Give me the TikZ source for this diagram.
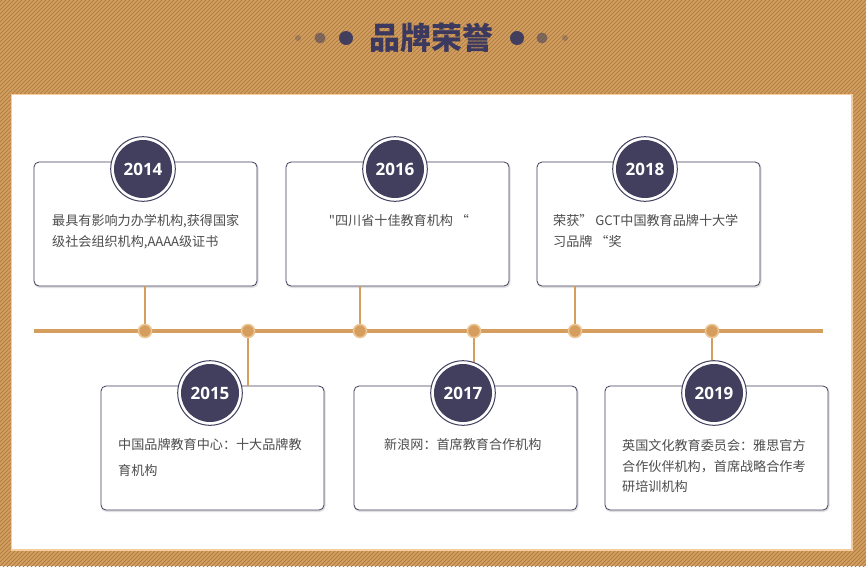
\documentclass[tikz,border=0pt]{standalone}
\usepackage{fontspec}
\setmainfont{Noto Sans CJK SC}
\newfontfamily\cjkfont{Noto Sans CJK SC}
\newfontfamily\yearfont{Open Sans}
\definecolor{tanbg}{RGB}{212,160,96}
\definecolor{tanstripe}{RGB}{176,126,68}
\definecolor{panelrim}{RGB}{246,204,158}
\definecolor{navy}{RGB}{66,63,94}
\definecolor{titlenavy}{RGB}{59,57,95}
\definecolor{lineorange}{RGB}{213,158,94}
\definecolor{dotring}{RGB}{238,200,152}
\definecolor{bodygray}{RGB}{77,77,77}
\tikzset{
  x=1pt,y=-1pt,
  stripe/.style={draw=tanstripe,line width=0.9pt},
  card/.style={draw=navy,line width=0.8pt,fill=white,rounded corners=5pt,minimum width=223pt,minimum height=124pt,inner sep=0pt},
  cardshadow/.style={draw=black!12,line width=2.2pt,rounded corners=5pt},
  yearc/.style={circle,fill=navy,minimum size=58pt,inner sep=0pt,text=white,font=\yearfont\bfseries\fontsize{17pt}{17pt}\selectfont},
  yearring/.style={draw=navy,line width=1pt,fill=white},
  tdot/.style={circle,fill=lineorange,draw=dotring,line width=1.4pt,minimum size=13pt,inner sep=0pt},
  conn/.style={draw=lineorange,line width=2pt},
  body/.style={anchor=north west,inner sep=0pt,align=left,text=bodygray},
  hdot/.style={circle,fill=navy,inner sep=0pt}
}
\newcommand{\bodyfont}[1]{\cjkfont\fontsize{13.1pt}{#1}\selectfont}
\begin{document}
\begin{tikzpicture}
\useasboundingbox (0,0) rectangle (866,566);
% striped background
\fill[tanbg] (0,0) rectangle (866,566);
\begin{scope}
\clip (0,0) rectangle (866,566);
\foreach \i in {-580,-576,...,870} \draw[stripe] (\i,570) -- (\i+570,0);
\end{scope}
% panel
\fill[white] (12,95) rectangle (851,549);
\draw[panelrim,line width=1.5pt] (11.25,94.25) rectangle (851.75,549.75);
% header
\node[font=\bfseries\fontsize{31pt}{31pt}\selectfont,text=titlenavy,inner sep=0pt] (title) at (431,38) {品牌荣誉};
\node[hdot,minimum size=6pt,fill opacity=0.3] (hl3) at (298,38) {};
\node[hdot,minimum size=11pt,fill opacity=0.55] (hl2) at (320,38) {};
\node[hdot,minimum size=14pt] (hl1) at (346,38) {};
\node[hdot,minimum size=14pt] (hr1) at (517,38) {};
\node[hdot,minimum size=11pt,fill opacity=0.55] (hr2) at (542,38) {};
\node[hdot,minimum size=6pt,fill opacity=0.3] (hr3) at (565,38) {};
% timeline
\coordinate (tl) at (34,331);
\coordinate (tr) at (823,331);
\draw[draw=lineorange,line width=4pt] (tl) -- (tr);
% card positions
\coordinate (p14) at (145.5,224);
\coordinate (p16) at (397.5,224);
\coordinate (p18) at (648.5,224);
\coordinate (p15) at (212.5,448);
\coordinate (p17) at (465.5,448);
\coordinate (p19) at (716.5,448);
% dots
\node[tdot] (d1) at (145,331) {};
\node[tdot] (d2) at (248,331) {};
\node[tdot] (d3) at (360,331) {};
\node[tdot] (d4) at (474,331) {};
\node[tdot] (d5) at (575,331) {};
\node[tdot] (d6) at (712,331) {};
% shadows
\foreach \p in {p14,p16,p18,p15,p17,p19}
  \draw[cardshadow] ([shift={(-110.5,-61)}]\p) rectangle ([shift={(112,63)}]\p);
% cards
\node[card] (c14) at (p14) {};
\node[card] (c16) at (p16) {};
\node[card] (c18) at (p18) {};
\node[card] (c15) at (p15) {};
\node[card] (c17) at (p17) {};
\node[card] (c19) at (p19) {};
% connectors
\draw[conn] (d1) -- (d1 |- c14.south);
\draw[conn] (d3) -- (d3 |- c16.south);
\draw[conn] (d5) -- (d5 |- c18.south);
\draw[conn] (d2) -- (d2 |- c15.north);
\draw[conn] (d4) -- (474,362);
\draw[conn] (d6) -- (712,362);
\foreach \d in {d1,d2,d3,d4,d5,d6} \node[tdot] at (\d) {};
% year circles
\foreach \n/\x/\y/\t in {y14/143/169/2014,y16/395/169/2016,y18/645/169/2018,y15/210/393/2015,y17/463/393/2017,y19/714/393/2019}{
  \draw[yearring] (\x,\y) circle[radius=32.3pt];
  \node[yearc] (\n) at (\x,\y) {\t};
}
% texts
\node[body,font=\bodyfont{20.5pt}] (t14) at (52,214.5) {最具有影响力办学机构,获得国家\\级社会组织机构,AAAA级证书};
\node[body,anchor=north,font=\bodyfont{20.5pt}] (t16) at (399,214.5) {"四川省十佳教育机构 “};
\node[body,font=\bodyfont{21pt}] (t18) at (553,214.5) {荣获” GCT中国教育品牌十大学\\习品牌 “奖};
\node[body,font=\bodyfont{26pt}] (t15) at (118,438.5) {中国品牌教育中心：十大品牌教\\育机构};
\node[body,font=\bodyfont{20.5pt}] (t17) at (384,438.5) {新浪网：首席教育合作机构};
\node[body,font=\bodyfont{20.2pt}] (t19) at (622,439.5) {英国文化教育委员会：雅思官方\\合作伙伴机构，首席战略合作考\\研培训机构};
\end{tikzpicture}
\end{document}
